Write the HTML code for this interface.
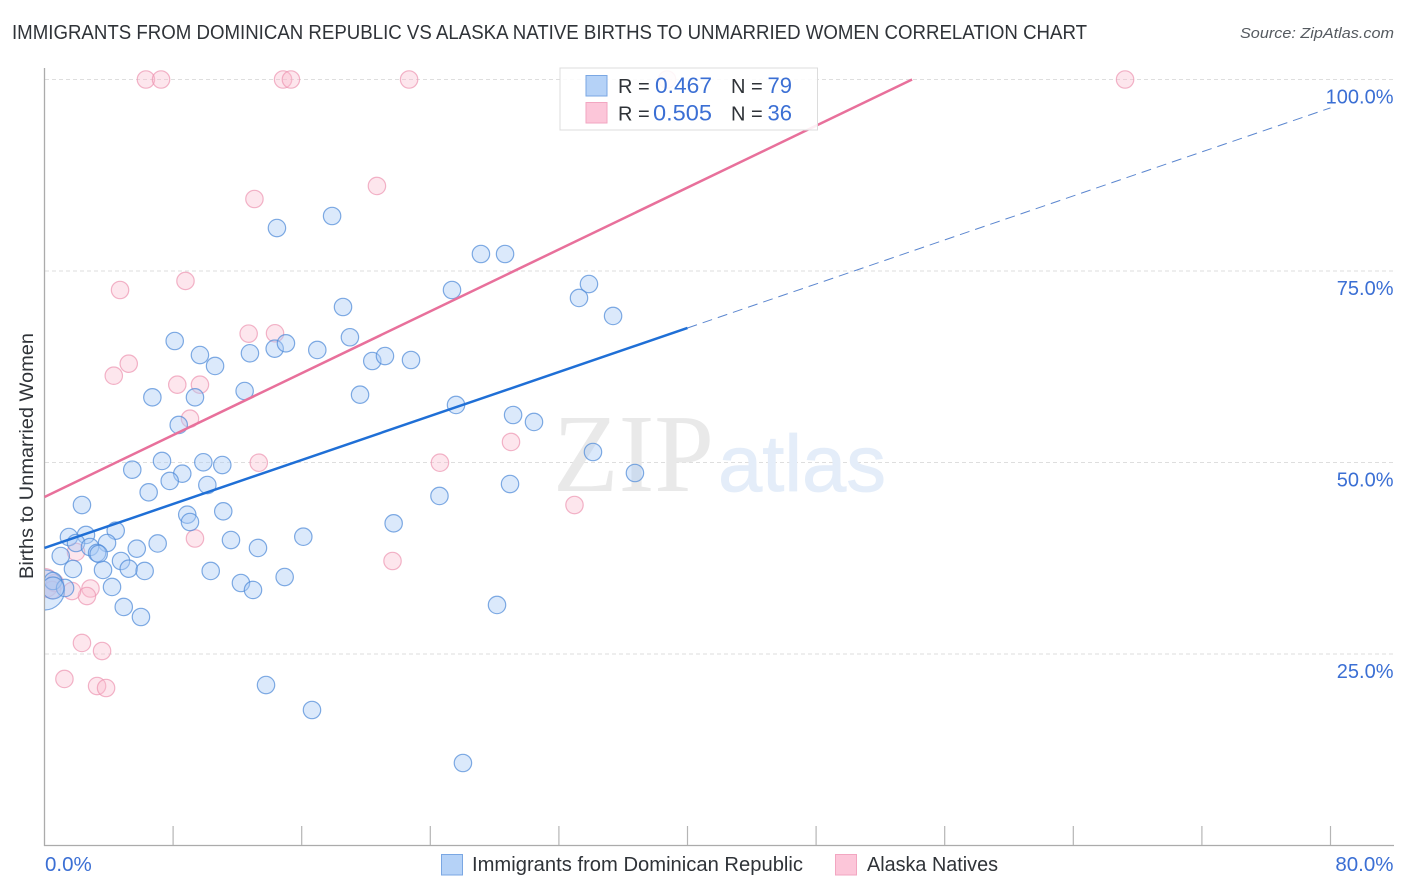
<!DOCTYPE html>
<html lang="en">
<head>
<meta charset="utf-8">
<title>Immigrants from Dominican Republic vs Alaska Native Births to Unmarried Women Correlation Chart</title>
<style>
html,body{margin:0;padding:0;background:#fff;}
svg{display:block;font-family:"Liberation Sans",sans-serif;}
</style>
</head>
<body>
<svg id="chart" xmlns="http://www.w3.org/2000/svg" width="1406" height="892" viewBox="0 0 1406 892">
  <defs>
    <clipPath id="plot-clip"><rect x="45" y="0" width="1361" height="845"></rect></clipPath>
  </defs>
  <rect x="0" y="0" width="1406" height="892" fill="#ffffff"></rect>
  <text x="12" y="39" font-size="20" fill="#2f3338" textLength="1075" lengthAdjust="spacingAndGlyphs">IMMIGRANTS FROM DOMINICAN REPUBLIC VS ALASKA NATIVE BIRTHS TO UNMARRIED WOMEN CORRELATION CHART</text>
  <text x="1394" y="38" font-size="15" font-style="italic" fill="#555a60" text-anchor="end" textLength="154" lengthAdjust="spacingAndGlyphs">Source: ZipAtlas.com</text>
  <text transform="translate(33,456) rotate(-90)" font-size="19" fill="#2f3338" text-anchor="middle" textLength="246" lengthAdjust="spacingAndGlyphs">Births to Unmarried Women</text>

  <g id="grid-layer"></g>

  <g>
    <text x="553" y="491" font-family="'Liberation Serif',serif" font-size="111" fill="#e9e9e9" textLength="161" lengthAdjust="spacingAndGlyphs">ZIP</text>
    <text x="718" y="491" style="font-family:'Liberation Sans',sans-serif" font-size="80" fill="#e4edf9" stroke="#e4edf9" stroke-width="0.8" textLength="168" lengthAdjust="spacingAndGlyphs">atlas</text>
  </g>

  <g id="axis-layer"></g>
  <g id="pink-layer" clip-path="url(#plot-clip)"></g>
  <g id="blue-layer" clip-path="url(#plot-clip)"></g>
  <g id="trend-layer"></g>
  <g id="label-layer"></g>

  <g>
    <rect x="560" y="68" width="257.5" height="62" fill="#ffffff" fill-opacity="0.88" stroke="#dcdcdc" stroke-width="1"></rect>
    <rect x="586" y="75.5" width="21" height="20.5" fill="#b5d2f7" stroke="#7aa7e3" stroke-width="1"></rect>
    <rect x="586" y="102.5" width="21" height="20.5" fill="#fcc6d9" stroke="#f2a6c1" stroke-width="1"></rect>
    <text x="618" y="93" font-size="20" fill="#2f3338">R =</text>
    <text x="655" y="93" font-size="22" fill="#3b6fd4" textLength="57" lengthAdjust="spacingAndGlyphs">0.467</text>
    <text x="731" y="93" font-size="20" fill="#2f3338">N =</text>
    <text x="792" y="93" font-size="22" fill="#3b6fd4" text-anchor="end">79</text>
    <text x="618" y="120.5" font-size="20" fill="#2f3338">R =</text>
    <text x="653" y="120.5" font-size="22" fill="#3b6fd4" textLength="59" lengthAdjust="spacingAndGlyphs">0.505</text>
    <text x="731" y="120.5" font-size="20" fill="#2f3338">N =</text>
    <text x="792" y="120.5" font-size="22" fill="#3b6fd4" text-anchor="end">36</text>
  </g>

  <g>
    <rect x="441.5" y="854.5" width="21" height="20.5" fill="#b5d2f7" stroke="#7aa7e3" stroke-width="1"></rect>
    <text x="472" y="871" font-size="20" fill="#2f3338" textLength="331" lengthAdjust="spacingAndGlyphs">Immigrants from Dominican Republic</text>
    <rect x="835.5" y="854.5" width="21" height="20.5" fill="#fcc6d9" stroke="#f2a6c1" stroke-width="1"></rect>
    <text x="867" y="871" font-size="20" fill="#2f3338" textLength="131" lengthAdjust="spacingAndGlyphs">Alaska Natives</text>
  </g>
</svg>
<script>
const xTickValues = [0, 8, 16, 24, 32, 40, 48, 56, 64, 72, 80];
const yGridValues = [25, 50, 75, 100];
const yTickLabels = ["25.0%", "50.0%", "75.0%", "100.0%"];
const xEndValues = [0, 80];
const xEndLabels = ["0.0%", "80.0%"];

const blueX = [14.46,17.89,27.15,28.65,25.35,33.87,33.25,35.37,18.57,19.0,8.10,9.67,10.61,12.78,14.32,15.02,16.97,20.39,21.18,22.80,6.71,9.36,12.45,19.63,25.60,29.15,30.45,8.35,34.12,36.73,5.46,7.31,8.57,7.79,9.88,11.06,10.13,6.48,28.96,24.57,2.33,11.12,8.88,9.05,21.72,4.43,1.52,2.58,11.60,16.10,7.04,3.89,1.96,2.83,5.74,13.28,1.01,3.27,3.37,1.77,3.64,4.76,5.24,6.23,10.34,12.22,12.97,14.94,4.20,4.93,6.00,28.15,13.78,16.64,26.03,0,0.53,1.28,0.53];
const blueY = [80.61,82.18,77.22,77.22,72.52,73.30,71.48,69.13,70.30,66.35,65.86,64.03,62.60,64.26,64.86,65.56,64.69,63.25,63.90,63.38,58.51,58.51,59.33,58.85,57.51,56.20,55.29,54.90,51.37,48.63,49.06,50.20,48.54,47.59,50.03,49.67,47.06,46.11,47.19,45.63,44.45,43.63,43.19,42.23,42.06,41.10,40.27,40.54,39.88,40.31,39.43,39.49,39.49,38.97,38.75,38.84,37.79,38.19,38.06,36.10,35.97,37.14,36.14,35.84,35.84,34.27,33.36,35.05,33.75,31.14,29.83,31.40,20.95,17.69,10.77,33.36,34.53,33.62,33.62];
const blueWeight = [1,1,1,1,1,1,1,1,1,1,1,1,1,1,1,1,1,1,1,1,1,1,1,1,1,1,1,1,1,1,1,1,1,1,1,1,1,1,1,1,1,1,1,1,1,1,1,1,1,1,1,1,1,1,1,1,1,1,1,1,1,1,1,1,1,1,1,1,1,1,1,1,1,1,1,5.3,1,1,1.6];

const pinkX = [6.31,7.25,14.84,15.33,22.68,38.73,67.22,20.68,13.06,8.77,4.70,12.70,14.34,5.24,4.31,8.26,9.67,9.05,13.33,24.60,29.02,32.97,9.36,21.65,1.96,2.86,2.64,1.71,2.33,3.58,1.24,3.27,3.83,0,0.65,0.47];
const pinkY = [100,100,100,100,100,100,100,86.10,84.40,73.70,72.52,66.82,66.87,62.90,61.33,60.16,60.16,55.72,49.97,49.97,52.68,44.45,40.08,37.14,38.32,33.55,32.57,33.22,26.44,25.39,21.74,20.82,20.56,34.27,34.27,33.36];
const pinkWeight = [1,1,1,1,1,1,1,1,1,1,1,1,1,1,1,1,1,1,1,1,1,1,1,1,1,1,1,1,1,1,1,1,1,2.8,1,1];

const blueTrendSolidX = [0, 40];
const blueTrendSolidY = [38.84, 67.56];
const blueTrendDashX = [40, 80];
const blueTrendDashY = [67.56, 96.3];
const pinkTrendX = [0, 53.97];
const pinkTrendY = [45.5, 100];

const NS = 'http://www.w3.org/2000/svg';
function xScale(v) { return 44.5 + v * 16.075; }
function yScale(v) { return 845.5 - v * 7.66; }
function radius(w) { return 8.7 * Math.sqrt(w); }
function make(tag, attrs, parent) {
  const el = document.createElementNS(NS, tag);
  for (const k in attrs) el.setAttribute(k, attrs[k]);
  parent.appendChild(el);
  return el;
}

const gridLayer = document.getElementById('grid-layer');
const axisLayer = document.getElementById('axis-layer');
const labelLayer = document.getElementById('label-layer');
const blueLayer = document.getElementById('blue-layer');
const pinkLayer = document.getElementById('pink-layer');
const trendLayer = document.getElementById('trend-layer');

yGridValues.forEach(function (v, i) {
  const line = make('line', { x1: 45, x2: 1394, y1: yScale(v), y2: yScale(v), stroke: '#dedede', 'stroke-width': 1, 'stroke-dasharray': '4 3' }, gridLayer);
  
  
  const label = make('text', { x: 1393.5, y: yScale(v) + 24, 'font-size': 20, fill: '#3b6fd4', 'text-anchor': 'end' }, labelLayer);
  
  
  label.textContent = yTickLabels[i];
});

const yAxisLine = make('line', { x1: 44.5, x2: 44.5, y1: 68, y2: 846, stroke: '#ababab', 'stroke-width': 1.3 }, axisLayer);


const xAxisLine = make('line', { x1: 44, x2: 1394, y1: 845.5, y2: 845.5, stroke: '#ababab', 'stroke-width': 1.3 }, axisLayer);



xTickValues.slice(1).forEach(function (v) {
  const tick = make('line', { x1: xScale(v), x2: xScale(v), y1: 826, y2: 845, stroke: '#b5b5b5', 'stroke-width': 1.2 }, axisLayer);
  
  
});

xEndValues.forEach(function (v, i) {
  const label = make('text', { x: i === 0 ? xScale(v) + 0.5 : 1393.5, y: 871, 'font-size': 20.5, fill: '#3b6fd4', 'text-anchor': i === 0 ? 'start' : 'end' }, labelLayer);
  
  
  label.textContent = xEndLabels[i];
});

pinkX.forEach(function (v, i) {
  const dot = make('circle', { cx: xScale(v), cy: yScale(pinkY[i]), r: radius(pinkWeight[i]), fill: '#f9b9cd', 'fill-opacity': 0.36, stroke: '#ec94b0', 'stroke-opacity': 0.7, 'stroke-width': 1.2 }, pinkLayer);
  
  
});

blueX.forEach(function (v, i) {
  const dot = make('circle', { cx: xScale(v), cy: yScale(blueY[i]), r: radius(blueWeight[i]), fill: '#a9cbf5', 'fill-opacity': 0.42, stroke: '#4f8ad8', 'stroke-opacity': 0.72, 'stroke-width': 1.2 }, blueLayer);
  
  
});

const pinkTrend = make('line', { x1: xScale(pinkTrendX[0]), y1: yScale(pinkTrendY[0]), x2: xScale(pinkTrendX[1]), y2: yScale(pinkTrendY[1]), stroke: '#e8709b', 'stroke-width': 2.5 }, trendLayer);


const blueTrend = make('line', { x1: xScale(blueTrendSolidX[0]), y1: yScale(blueTrendSolidY[0]), x2: xScale(blueTrendSolidX[1]), y2: yScale(blueTrendSolidY[1]), stroke: '#1f6fd6', 'stroke-width': 2.5 }, trendLayer);


const blueDash = make('line', { x1: xScale(blueTrendDashX[0]), y1: yScale(blueTrendDashY[0]), x2: xScale(blueTrendDashX[1]), y2: yScale(blueTrendDashY[1]), stroke: '#5b86cf', 'stroke-width': 1, 'stroke-dasharray': '10 6' }, trendLayer);


</script>
</body>
</html>
